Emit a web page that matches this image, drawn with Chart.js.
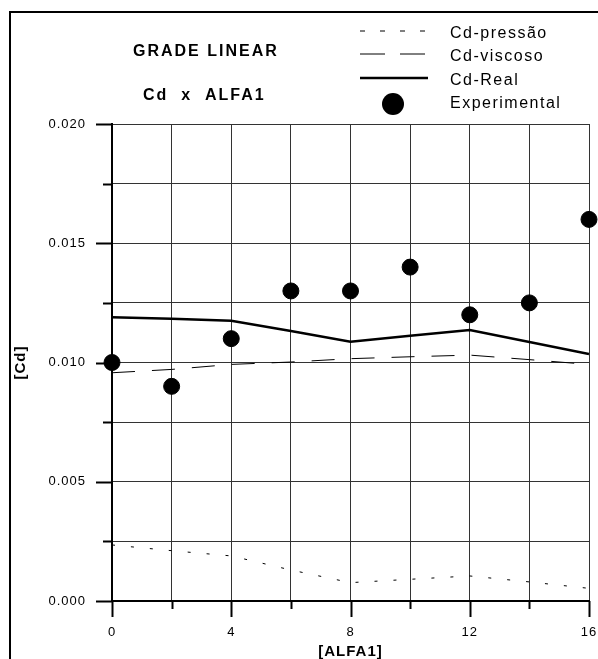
<!DOCTYPE html>
<html>
<head>
<meta charset="utf-8">
<script src="https://cdn.jsdelivr.net/npm/chart.js@4.4.0/dist/chart.umd.min.js"></script>
<style>
  html, body { margin: 0; padding: 0; background: #fff; }
  #wrap { width: 598px; height: 659px; }
</style>
</head>
<body>
<div id="wrap"><canvas id="grafico" width="598" height="659"></canvas></div>
<script>
// Valores
const alfa = [0, 2, 4, 6, 8, 10, 12, 14, 16];
const cdPressao = [0.00235, 0.00211, 0.00189, 0.00130, 0.00077, 0.00091, 0.00105, 0.00080, 0.00053];
const cdViscoso = [0.00957, 0.00971, 0.00992, 0.01002, 0.01016, 0.01024, 0.01031, 0.01012, 0.00992];
const cdReal = [0.01190, 0.01183, 0.01175, 0.01132, 0.01087, 0.01112, 0.01136, 0.01086, 0.01036];
const experimental = [0.0100, 0.0090, 0.0110, 0.0130, 0.0130, 0.0140, 0.0120, 0.0125, 0.0160];

const rotulosX = [0, 4, 8, 12, 16];
const rotulosY = [0, 0.005, 0.010, 0.015, 0.020];

const FONTE = '"Liberation Sans", Arial, sans-serif';

function pares(valores) {
    return alfa.map((a, i) => ({ x: a, y: valores[i] }));
}

function ehRotuloY(v) {
    return rotulosY.some(r => Math.abs(r - v) < 1e-9);
}

// Moldura, títulos, legenda e marcas dos eixos
const decoracao = {
    id: 'decoracao',
    beforeDraw(chart) {
        chart.ctx.letterSpacing = '1px';
    },
    afterDraw(chart) {
        const ctx = chart.ctx;
        const area = chart.chartArea;
        const sx = chart.scales.x;
        const sy = chart.scales.y;
        ctx.save();
        ctx.strokeStyle = '#000';
        ctx.fillStyle = '#000';

        // moldura (cortada à direita e embaixo)
        ctx.lineWidth = 2;
        ctx.beginPath();
        ctx.moveTo(10, 659);
        ctx.lineTo(10, 12);
        ctx.lineTo(598, 12);
        ctx.stroke();

        // marcas dos eixos
        ctx.lineWidth = 2;
        sy.ticks.forEach(t => {
            const py = Math.round(sy.getPixelForValue(t.value)) + 0.5;
            const len = ehRotuloY(t.value) ? 16 : 9;
            ctx.beginPath();
            ctx.moveTo(area.left - len, py);
            ctx.lineTo(area.left, py);
            ctx.stroke();
        });
        sx.ticks.forEach(t => {
            const px = Math.round(sx.getPixelForValue(t.value)) + 0.5;
            const len = rotulosX.includes(t.value) ? 16 : 8;
            ctx.beginPath();
            ctx.moveTo(px, area.bottom);
            ctx.lineTo(px, area.bottom + len);
            ctx.stroke();
        });

        // títulos
        ctx.letterSpacing = '2px';
        ctx.font = 'bold 16px ' + FONTE;
        ctx.textAlign = 'left';
        ctx.textBaseline = 'middle';
        ctx.fillText('GRADE LINEAR', 133, 52);
        ctx.fillText('Cd  x  ALFA1', 143, 96);

        // títulos dos eixos
        ctx.letterSpacing = '1px';
        ctx.font = 'bold 15px ' + FONTE;
        ctx.textAlign = 'center';
        ctx.fillText('[ALFA1]', (area.left + area.right) / 2, 652);
        ctx.save();
        ctx.translate(21, (area.top + area.bottom) / 2);
        ctx.rotate(-Math.PI / 2);
        ctx.fillText('[Cd]', 0, 0);
        ctx.restore();

        // legenda
        const linhas = [34, 57, 81, 104];
        const x0 = 360, x1 = 428;
        chart.data.datasets.forEach((ds, i) => {
            const y = linhas[i];
            ctx.save();
            if (ds.showLine === false) {
                ctx.beginPath();
                ctx.arc((x0 + x1) / 2 - 1, y, 11, 0, Math.PI * 2);
                ctx.fill();
            } else {
                ctx.lineWidth = ds.borderWidth;
                ctx.setLineDash(i === 0 ? [5, 15] : (i === 1 ? [25, 15] : []));
                ctx.beginPath();
                ctx.moveTo(x0, y - 3);
                ctx.lineTo(x1, y - 3);
                ctx.stroke();
            }
            ctx.restore();
            ctx.letterSpacing = '1.5px';
            ctx.font = '16px ' + FONTE;
            ctx.textAlign = 'left';
            ctx.fillText(ds.label, 450, y);
        });
        ctx.restore();
    }
};

const ctx = document.getElementById('grafico').getContext('2d');

new Chart(ctx, {
    type: 'line',
    data: {
        datasets: [
            {
                label: 'Cd-pressão',
                data: pares(cdPressao),
                borderColor: '#000',
                borderWidth: 1,
                borderDash: [3, 16],
                pointRadius: 0,
                fill: false
            },
            {
                label: 'Cd-viscoso',
                data: pares(cdViscoso),
                borderColor: '#000',
                borderWidth: 1,
                borderDash: [23, 17],
                pointRadius: 0,
                fill: false
            },
            {
                label: 'Cd-Real',
                data: pares(cdReal),
                borderColor: '#000',
                borderWidth: 2.5,
                pointRadius: 0,
                fill: false
            },
            {
                label: 'Experimental',
                data: pares(experimental),
                showLine: false,
                clip: false,
                pointRadius: 8,
                pointBackgroundColor: '#000',
                pointBorderColor: '#000',
                borderColor: '#000'
            }
        ]
    },
    options: {
        responsive: false,
        animation: false,
        layout: { padding: { top: 124, right: 9, left: 0, bottom: 0 } },
        plugins: { legend: { display: false }, tooltip: { enabled: false } },
        scales: {
            x: {
                type: 'linear',
                min: 0,
                max: 16,
                afterFit: s => { s.height = 58; s.paddingLeft = 0; s.paddingRight = 0; },
                ticks: {
                    stepSize: 2,
                    autoSkip: false,
                    maxRotation: 0,
                    padding: 24,
                    color: '#000',
                    font: { family: FONTE, size: 13 },
                    callback: v => rotulosX.includes(v) ? String(v) : ''
                },
                grid: { color: '#333', lineWidth: 1, drawTicks: false },
                border: { color: '#000', width: 2 }
            },
            y: {
                min: 0,
                max: 0.02,
                afterFit: s => { s.width = 112; s.paddingTop = 0; s.paddingBottom = 0; },
                ticks: {
                    stepSize: 0.0025,
                    autoSkip: false,
                    padding: 26,
                    color: '#000',
                    font: { family: FONTE, size: 13 },
                    callback: v => ehRotuloY(v) ? v.toFixed(3) : ''
                },
                grid: { color: '#333', lineWidth: 1, drawTicks: false },
                border: { color: '#000', width: 2 }
            }
        }
    },
    plugins: [decoracao]
});
</script>
</body>
</html>
